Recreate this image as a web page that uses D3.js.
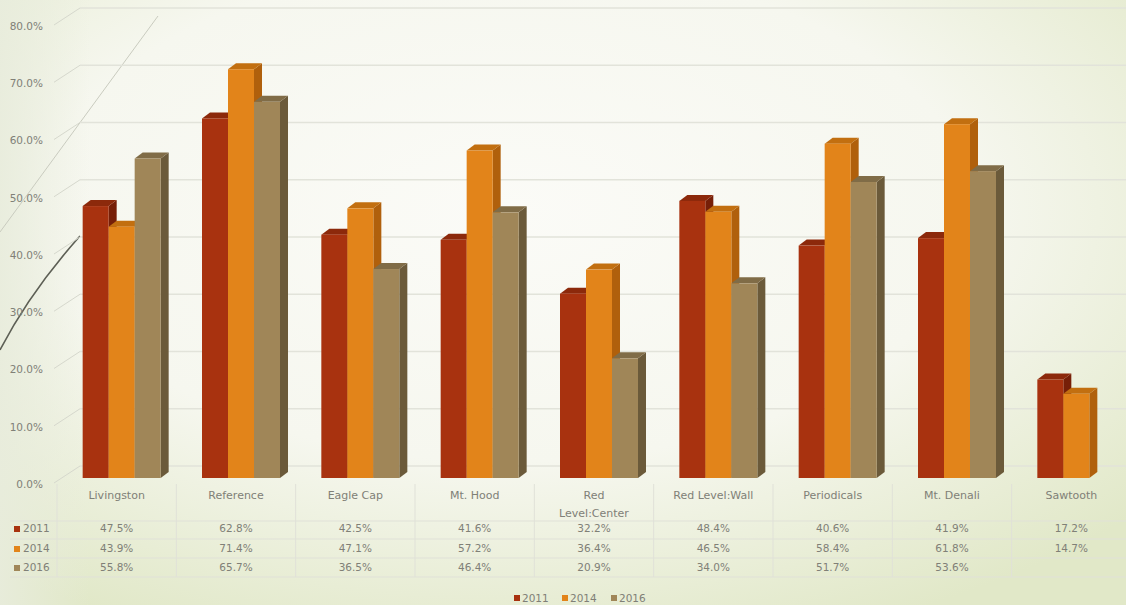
<!DOCTYPE html>
<html>
<head>
<meta charset="utf-8">
<script src="https://cdn.jsdelivr.net/npm/d3@7"></script>
<style>
  html, body { margin: 0; padding: 0; background: #f4f5ec; }
  svg { display: block; }
  text { font-family: "DejaVu Sans", sans-serif; fill: #808077; }
</style>
</head>
<body>
<svg id="chart" width="1126" height="605"></svg>
<script>
// ---- data ----
const categories = ["Livingston", "Reference", "Eagle Cap", "Mt. Hood", "Red Level:Center",
                    "Red Level:Wall", "Periodicals", "Mt. Denali", "Sawtooth"];
const categoryLines = [["Livingston"], ["Reference"], ["Eagle Cap"], ["Mt. Hood"], ["Red", "Level:Center"],
                       ["Red Level:Wall"], ["Periodicals"], ["Mt. Denali"], ["Sawtooth"]];
const seriesNames = ["2011", "2014", "2016"];
const values2011 = [47.5, 62.8, 42.5, 41.6, 32.2, 48.4, 40.6, 41.9, 17.2];
const values2014 = [43.9, 71.4, 47.1, 57.2, 36.4, 46.5, 58.4, 61.8, 14.7];
const values2016 = [55.8, 65.7, 36.5, 46.4, 20.9, 34.0, 51.7, 53.6, null];
const yTicks = [0, 10, 20, 30, 40, 50, 60, 70, 80];

const seriesValues = [values2011, values2014, values2016];
const palette = [
  { front: "#a8320f", side: "#761f08", top: "#8c290b" },
  { front: "#e2841a", side: "#b0600c", top: "#c26f10" },
  { front: "#a08658", side: "#6b5a3a", top: "#806c47" }
];

const W = 1126, H = 605;
const svg = d3.select("#chart");
const defs = svg.append("defs");

// ---- background ----
const bg = defs.append("radialGradient").attr("id", "bg")
  .attr("cx", "45%").attr("cy", "35%").attr("r", "75%");
bg.append("stop").attr("offset", "0%").attr("stop-color", "#fbfbf7");
bg.append("stop").attr("offset", "55%").attr("stop-color", "#f6f7ef");
bg.append("stop").attr("offset", "100%").attr("stop-color", "#e1e8c8");
svg.append("rect").attr("width", W).attr("height", H).attr("fill", "url(#bg)");

const edge = defs.append("linearGradient").attr("id", "leftEdge").attr("x1", "0").attr("x2", "1");
edge.append("stop").attr("offset", "0").attr("stop-color", "#e8ecdc").attr("stop-opacity", 0.9);
edge.append("stop").attr("offset", "1").attr("stop-color", "#e8ecdc").attr("stop-opacity", 0);
svg.append("rect").attr("width", 90).attr("height", H).attr("fill", "url(#leftEdge)");

// decorative theme strokes on the left
svg.append("path")
  .attr("d", "M0,232 L158,16")
  .attr("stroke", "#c9cbbf").attr("stroke-width", 1).attr("fill", "none");
svg.append("path")
  .attr("d", "M0,350 Q30,292 80,236")
  .attr("stroke", "#5d5f55").attr("stroke-width", 1.6).attr("fill", "none");

// ---- scales ----
const x = d3.scaleBand().domain(categories).range([57, 1131]);
const y = d3.scaleLinear().domain([0, 80]).range([478, 20]);
const depthX = 8, depthY = 6;      // bar depth
const wallY = 12;                  // back wall offset
const barW = 26;
const bw = x.bandwidth();

// ---- walls / gridlines ----
const grid = svg.append("g");
yTicks.forEach(t => {
  const yb = y(t) - wallY;
  grid.append("line").attr("x1", 80).attr("x2", W).attr("y1", yb).attr("y2", yb)
    .attr("stroke", "#e2e3da").attr("stroke-width", 1.5);
  grid.append("line").attr("x1", 54).attr("y1", y(t) + 5).attr("x2", 80).attr("y2", yb)
    .attr("stroke", "#d6d8cd").attr("stroke-width", 1);
});

// y-axis labels
const yAxis = d3.axisLeft(y).tickValues(yTicks).tickFormat(d => d.toFixed(1) + "%").tickSize(0);
const yg = svg.append("g").attr("transform", "translate(46,6)").call(yAxis);
yg.select(".domain").remove();
yg.selectAll("text").attr("font-size", 10.5).attr("fill", "#86867d")
  .style("font-family", "'DejaVu Sans', sans-serif").attr("dx", 0);

// ---- 3D bars ----
const bars = svg.append("g");
categories.forEach((c, ci) => {
  const left = x(c) + bw / 2 - 34;
  seriesValues.forEach((vals, si) => {
    const v = vals[ci];
    if (v == null) return;
    const x0 = left + si * barW, x1 = x0 + barW;
    const yt = y(v), yb = y(0);
    const col = palette[si];
    bars.append("path")
      .attr("d", `M${x1},${yt} L${x1 + depthX},${yt - depthY} L${x1 + depthX},${yb - depthY} L${x1},${yb} Z`)
      .attr("fill", col.side);
    bars.append("path")
      .attr("d", `M${x0},${yt} L${x0 + depthX},${yt - depthY} L${x1 + depthX},${yt - depthY} L${x1},${yt} Z`)
      .attr("fill", col.top);
    bars.append("rect").attr("x", x0).attr("y", yt).attr("width", barW).attr("height", yb - yt)
      .attr("fill", col.front);
  });
});

// ---- data table ----
const table = svg.append("g");
const rowY = [529, 549, 568];
const hLines = [521, 539, 558, 577];
const lineCol = "#e0e1d8";
hLines.forEach(h => table.append("line").attr("x1", 10).attr("x2", W).attr("y1", h).attr("y2", h)
  .attr("stroke", lineCol).attr("stroke-width", 1));
categories.forEach(c => {
  table.append("line").attr("x1", x(c)).attr("x2", x(c)).attr("y1", 484).attr("y2", 577)
    .attr("stroke", lineCol).attr("stroke-width", 1);
});

categories.forEach((c, ci) => {
  const cx = x(c) + bw / 2;
  categoryLines[ci].forEach((ln, li) => {
    table.append("text").attr("x", cx).attr("y", 496 + li * 18).attr("text-anchor", "middle")
      .attr("dominant-baseline", "middle").attr("font-size", 11).text(ln);
  });
  seriesValues.forEach((vals, si) => {
    const v = vals[ci];
    if (v == null) return;
    table.append("text").attr("x", cx).attr("y", rowY[si]).attr("text-anchor", "middle")
      .attr("dominant-baseline", "middle").attr("font-size", 10.5).text(v.toFixed(1) + "%");
  });
});

seriesNames.forEach((s, si) => {
  table.append("rect").attr("x", 14).attr("y", rowY[si] - 3).attr("width", 6).attr("height", 6)
    .attr("fill", palette[si].front);
  table.append("text").attr("x", 23).attr("y", rowY[si]).attr("dominant-baseline", "middle")
    .attr("font-size", 10.5).text(s);
});

// ---- legend ----
const legend = svg.append("g");
const legendX = [514, 562, 611];
seriesNames.forEach((s, si) => {
  legend.append("rect").attr("x", legendX[si]).attr("y", 595).attr("width", 6).attr("height", 6)
    .attr("fill", palette[si].front);
  legend.append("text").attr("x", legendX[si] + 8).attr("y", 598.5).attr("dominant-baseline", "middle")
    .attr("font-size", 10.5).text(s);
});
</script>
</body>
</html>
